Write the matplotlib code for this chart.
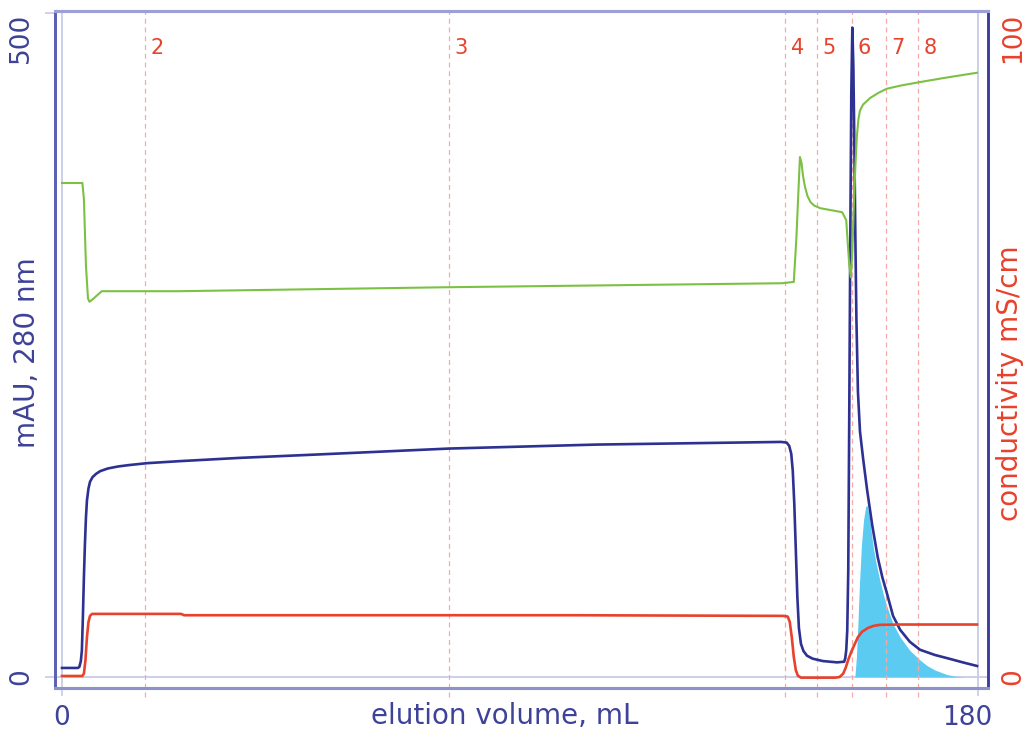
import matplotlib
matplotlib.use("Agg")
import matplotlib.pyplot as plt
from matplotlib.transforms import ScaledTranslation

plt.rcParams['font.family'] = ['DejaVu Sans']

# ---------------- data ----------------
uv_x = [0, 3.1, 3.4, 3.7, 3.9, 4.1, 4.3, 4.5, 4.7, 4.9, 5.2, 5.5, 6.0, 6.7, 7.5,
        9.0, 11.0, 13.0, 16.7, 23.0, 35.0, 50.0, 76.0, 105.0,
        141.3, 142.4, 142.9, 143.3, 143.6, 143.9, 144.2, 144.5, 144.8, 145.2,
        145.7, 146.4, 147.5, 149.5, 152.3,
        153.7, 153.9, 154.1, 154.3, 154.5, 154.7, 154.9, 155.1, 155.3,
        155.5, 155.7, 155.9, 156.1, 156.4, 156.8, 157.4, 158.2, 159.2, 160.3,
        161.2, 162.1, 163.3, 164.7, 166.6, 168.6, 171.5, 174.5, 177.4, 179.8]
uv_y = [6.8, 6.8, 7.5, 12, 20, 45, 75, 100, 120, 133, 142, 147, 150.5, 153, 155,
        157, 158.5, 159.5, 161, 162.5, 165, 167.5, 172, 175,
        177, 176.5, 174, 168, 155, 130, 95, 60, 37, 25,
        19.5, 16, 13.8, 12, 11,
        11.5, 14, 20, 35, 80, 200, 330, 440, 489,
        460, 400, 330, 270, 215, 185, 165, 141, 114.5, 90,
        75, 63, 46, 35.5, 26.5, 20.5, 16.6, 13.6, 10.6, 8.3]

cond_x = [0, 4.0, 4.3, 4.6, 4.9, 5.2, 5.5, 5.9, 23.4, 24.0, 100, 141.7, 142.6,
          143.0, 143.4, 143.8, 144.2, 144.6, 145.2, 152.0, 152.8, 153.5, 154.0,
          154.5, 155.1, 155.8, 156.4, 157.2, 158.4, 159.5, 160.7, 164.7, 179.8]
cond_y = [0.15, 0.15, 0.5, 2.5, 6.0, 8.3, 9.2, 9.5, 9.5, 9.3, 9.3, 9.2, 9.1,
          8.3, 6.0, 3.0, 1.0, 0.2, -0.1, -0.1, 0.0, 0.5, 1.4,
          2.6, 3.8, 5.0, 6.0, 6.8, 7.4, 7.7, 7.85, 7.9, 7.9]

grad_x = [0, 4.0, 4.3, 4.7, 5.1, 5.4, 6.2, 7.8, 23, 76, 141.5, 143.8, 144.3, 145.0,
          145.3, 145.6, 146.0, 146.5, 147.1, 147.8, 149.0, 153.3, 154.1, 154.7,
          155.0, 155.3, 155.6, 155.9, 156.2, 156.5, 156.8, 157.4, 158.8, 160.5,
          162.1, 165.0, 168.6, 174.0, 179.8]
grad_y = [74.4, 74.4, 72, 62, 57, 56.5, 57, 58.1, 58.1, 58.7, 59.3, 59.5, 66, 78.3,
          77.5, 75.5, 73.8, 72.4, 71.5, 71.0, 70.6, 70.0, 68.8, 62,
          60.2, 64, 71, 77, 81.5, 84, 85.3, 86.2, 87.2, 88.0,
          88.6, 89.1, 89.6, 90.3, 91.0]

peak_x = [155.8, 156.1, 156.4, 156.7, 157.1, 157.5, 157.9, 158.2, 158.6, 159.0,
          159.4, 160.0, 160.7, 161.4, 162.1, 163.3, 164.7, 166.6, 168.6, 170.0,
          171.5, 173.9, 175.5, 177.4]
peak_y = [0, 15, 40, 70, 100, 118, 128, 129.5, 122, 110,
          98, 85, 73, 62, 53, 40, 30, 20, 12.8, 8.5,
          5.3, 1.8, 0.6, 0]

frac_x = [16.3, 76.0, 142.1, 148.4, 155.2, 161.9, 168.2]
frac_labels = ['2', '3', '4', '5', '6', '7', '8']

x_ticks = [0, 180]
uv_ticks = [0, 500]
cond_ticks = [0, 100]

# ---------------- style ----------------
NAVY = '#2d3191'
RED = '#e8412c'
GREEN = '#7cc144'
CYAN = '#5ccbf2'
FRAC = '#f5aba5'
LIGHT = '#c9cbe8'
AXTXT = '#3e4298'

fig = plt.figure(figsize=(10.25, 7.31), dpi=100)
ax = fig.add_axes([55/1025, 43/731, 933/1025, 677/731])
ax2 = ax.twinx()

ax.set_xlim(-1.38, 181.96)
ax.set_ylim(-8.3, 501.5)
ax2.set_ylim(-1.66, 100.3)

# guide lines
ax.axvline(0, color=LIGHT, lw=1.3, zorder=1)
ax.axvline(180, color=LIGHT, lw=1.3, zorder=1)
ax.axhline(0, color=LIGHT, lw=1.3, zorder=1)

ax.fill_between(peak_x, peak_y, 0, color=CYAN, lw=0, zorder=2)

for fx, fl in zip(frac_x, frac_labels):
    ax.axvline(fx, ymin=-0.014, ymax=1, color=FRAC, lw=0.9, ls=(0, (4, 3)),
               zorder=3, clip_on=False)
    ax.text(fx + 1.1, 474, fl, color=RED, fontsize=15, ha='left', va='center',
            zorder=3)

ax.plot(uv_x, uv_y, color=NAVY, lw=1.9, zorder=5, solid_joinstyle='round')
ax2.plot(grad_x, grad_y, color=GREEN, lw=1.5, zorder=4, solid_joinstyle='round')
ax2.plot(cond_x, cond_y, color=RED, lw=1.9, zorder=4, solid_joinstyle='round')

# spines
for a in (ax, ax2):
    a.spines['top'].set_color('#9da0d6')
    a.spines['top'].set_linewidth(2.2)
    a.spines['bottom'].set_color('#8f92c9')
    a.spines['bottom'].set_linewidth(2.2)
    a.spines['left'].set_color('#5d61b3')
    a.spines['left'].set_linewidth(2.0)
    a.spines['right'].set_color('#3a3d9e')
    a.spines['right'].set_linewidth(1.8)

# ticks
ax.set_xticks(x_ticks)
ax.set_xticklabels([str(v) for v in x_ticks])
ax.tick_params(axis='x', length=6, width=1.2, color=LIGHT, labelcolor=AXTXT,
               labelsize=19, pad=6)
xl = ax.get_xticklabels()
xl[1].set_transform(xl[1].get_transform() +
                    ScaledTranslation(-11/100, 0, fig.dpi_scale_trans))

ax.set_yticks(uv_ticks)
ax.set_yticklabels([str(v) for v in uv_ticks], rotation=90, va='center')
ax.tick_params(axis='y', length=7, width=1.2, color=LIGHT, labelcolor=AXTXT,
               labelsize=19, pad=8)
ax.get_yticklabels()[1].set_va('top')

ax2.set_yticks(cond_ticks)
ax2.set_yticklabels([str(v) for v in cond_ticks], rotation=90, va='center')
ax2.tick_params(axis='y', length=0, labelcolor=RED, labelsize=19, pad=9)
ax2.get_yticklabels()[1].set_va('top')

# axis titles
ax.text(0.482, -0.041, 'elution volume, mL', transform=ax.transAxes,
        ha='center', va='center', fontsize=20, color=AXTXT)
ax.text(-0.030, 0.496, 'mAU, 280 nm', transform=ax.transAxes, rotation=90,
        ha='center', va='center', fontsize=20, color=AXTXT)
ax2.text(1.0236, 0.450, 'conductivity mS/cm', transform=ax2.transAxes,
         rotation=90, ha='center', va='center', fontsize=20, color=RED)

fig.savefig('out.png', dpi=100)
